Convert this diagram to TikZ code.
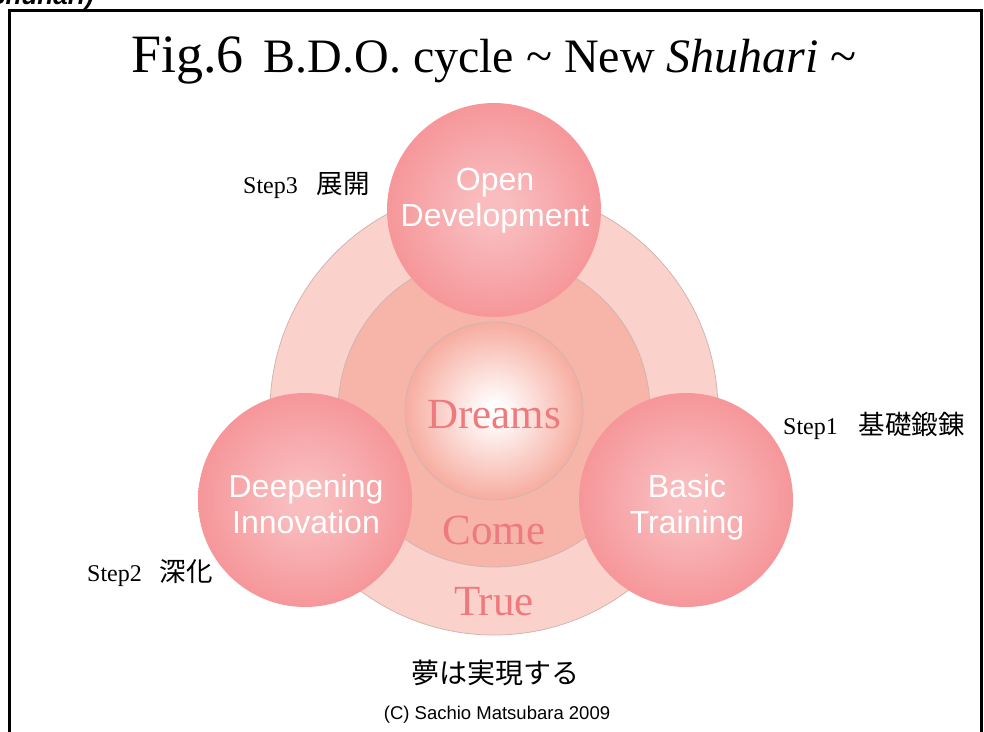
\documentclass[tikz,border=0pt]{standalone}
\usepackage{fontspec}
\setmainfont{Liberation Serif}
\setsansfont{Liberation Sans}
\newfontfamily\cjk{Noto Sans CJK JP}
\definecolor{balllight}{HTML}{F9BDBF}
\definecolor{balldark}{HTML}{F37B7F}
\definecolor{outerpink}{HTML}{FBD2CB}
\definecolor{midpink}{HTML}{F7B4A9}
\definecolor{innerpink}{HTML}{F6A597}
\definecolor{wordpink}{HTML}{EF7A7E}
\definecolor{ringedge}{HTML}{D2B4B0}
\pgfdeclareradialshading{redball}{\pgfpoint{0bp}{0bp}}{color(0bp)=(balllight); color(4bp)=(balllight); color(40bp)=(balldark); color(50bp)=(balldark)}
\pgfdeclareradialshading{dreamball}{\pgfpoint{0bp}{0bp}}{color(0bp)=(white); color(2bp)=(white); color(27bp)=(innerpink); color(50bp)=(innerpink)}
\begin{document}
\begin{tikzpicture}[x=1pt,y=-1pt,
  ring/.style={circle, inner sep=0pt, draw=ringedge, line width=0.8pt},
  ball/.style={circle, inner sep=0pt, minimum size=214pt, shading=redball},
  balltext/.style={anchor=base, text=white, font=\sffamily\fontsize{32}{36}\selectfont},
  wordtext/.style={anchor=base, text=wordpink, font=\fontsize{43}{48}\selectfont},
  steptext/.style={anchor=base west, inner sep=0pt, font=\fontsize{24}{28}\selectfont}
]
\useasboundingbox (0,0) rectangle (984,731);
% cropped heading of the previous figure
\node[anchor=base east, inner sep=0pt, font=\sffamily\bfseries\itshape\fontsize{26}{28}\selectfont] (prevhead) at (94,4.5) {Shuhari)};
% frame
\coordinate (fbl) at (9,735);
\coordinate (ftl) at (9,10);
\coordinate (ftr) at (981,10);
\coordinate (fbr) at (981,735);
\draw[line width=3pt] (fbl) -- (ftl) -- (ftr) -- (fbr);
% title
\node[anchor=base, inner sep=0pt] (title) at (494,72) {{\fontsize{54}{58}\selectfont Fig.6}\hspace{20pt}{\fontsize{48}{52}\selectfont B.D.O. cycle \textasciitilde\ New \textit{Shuhari} \textasciitilde}};
% rings
\node[ring, fill=outerpink, minimum size=448pt] (outerring) at (494,411) {};
\node[ring, fill=midpink, minimum size=312pt] (midring) at (494,411) {};
\node[ring, shading=dreamball, minimum size=178pt] (innerring) at (494,411) {};
\node[wordtext] (dreams) at (494,428) {Dreams};
\node[wordtext] (come) at (494,544) {Come};
\node[wordtext] (true) at (494,615) {True};
% three balls
\node[ball] (openball) at (494,210) {};
\node[ball] (deepball) at (305,500) {};
\node[ball] (basicball) at (686,500) {};
\node[balltext] (open1) at (495,190) {Open};
\node[balltext] (open2) at (495,226) {Development};
\node[balltext] (deep1) at (306,497) {Deepening};
\node[balltext] (deep2) at (306,533) {Innovation};
\node[balltext] (basic1) at (687,497) {Basic};
\node[balltext] (basic2) at (687,533) {Training};
% step labels
\node[steptext] (step3) at (243,193) {Step3\hspace{19pt}{\cjk\fontsize{26.5}{28}\selectfont 展開}};
\node[steptext] (step1) at (783,434) {Step1\hspace{21pt}{\cjk\fontsize{26.5}{28}\selectfont 基礎鍛錬}};
\node[steptext] (step2) at (87,581) {Step2\hspace{18pt}{\cjk\fontsize{26.5}{28}\selectfont 深化}};
% bottom texts
\node[font=\cjk\fontsize{28}{30}\selectfont] (yume) at (495,673) {夢は実現する};
\node[font=\sffamily\fontsize{18.5}{20}\selectfont] (copy) at (497,715) {(C) Sachio Matsubara 2009};
\end{tikzpicture}
\end{document}
